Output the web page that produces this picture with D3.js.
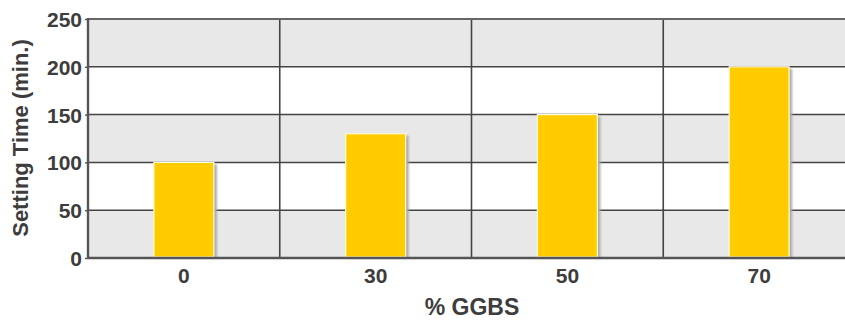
<!DOCTYPE html>
<html>
<head>
<meta charset="utf-8">
<script src="https://cdn.jsdelivr.net/npm/d3@7"></script>
<style>
  html, body { margin: 0; padding: 0; background: #fff; }
  svg { display: block; }
  text { font-family: "Liberation Sans", Arial, sans-serif; font-weight: bold; fill: #3d3d3d; }
</style>
</head>
<body>
<svg id="chart" width="845" height="320"></svg>
<script>
const categories = ["0", "30", "50", "70"];
const values = [100, 130, 150, 200];
const yTicks = [0, 50, 100, 150, 200, 250];
const yTitle = "Setting Time (min.)";
const xTitle = "% GGBS";

const svg = d3.select("#chart");
const margin = { left: 88, top: 19, right: -10, bottom: 62 };
const W = 845, H = 320;
const x0 = margin.left, x1 = W - margin.right;
const yTop = margin.top, yBot = H - margin.bottom;

const x = d3.scaleBand().domain(categories).range([x0, x1]).padding(0);
const y = d3.scaleLinear().domain([0, 250]).range([yBot, yTop]);

// alternating bands
const bandPairs = d3.pairs(yTicks);
svg.append("g").selectAll("rect").data(bandPairs).join("rect")
  .attr("x", x0).attr("width", x1 - x0)
  .attr("y", d => y(d[1])).attr("height", d => y(d[0]) - y(d[1]))
  .attr("fill", (d, i) => i % 2 === 0 ? "#e8e8e8" : "#ffffff");

// vertical grid lines at band boundaries
const bounds = categories.slice(1).map(c => x(c));
svg.append("g").selectAll("line").data(bounds).join("line")
  .attr("x1", d => d).attr("x2", d => d)
  .attr("y1", yTop).attr("y2", yBot)
  .attr("stroke", "#444").attr("stroke-width", 1.6);

// horizontal grid lines
svg.append("g").selectAll("line").data(yTicks.slice(1)).join("line")
  .attr("x1", x0).attr("x2", x1)
  .attr("y1", d => y(d)).attr("y2", d => y(d))
  .attr("stroke", d => d === 250 ? "#666" : "#444")
  .attr("stroke-width", d => d === 250 ? 2 : 1.5);

// bars
const barW = 60;
const defs = svg.append("defs");
defs.append("filter").attr("id", "blur").append("feGaussianBlur").attr("stdDeviation", 1);
const bars = svg.append("g");
bars.selectAll("rect.shadow").data(values).join("rect").attr("class", "shadow")
  .attr("x", (d, i) => x(categories[i]) + x.bandwidth() / 2 - barW / 2 + 3)
  .attr("y", d => y(d) + 2)
  .attr("width", barW).attr("height", d => yBot - y(d) - 2)
  .attr("fill", "#aaa").attr("filter", "url(#blur)");
bars.selectAll("rect.bar").data(values).join("rect").attr("class", "bar")
  .attr("x", (d, i) => x(categories[i]) + x.bandwidth() / 2 - barW / 2)
  .attr("y", d => y(d))
  .attr("width", barW).attr("height", d => yBot - y(d) - 1)
  .attr("fill", "#ffcc00").attr("stroke", "#fffbe0").attr("stroke-width", 1.2);

// axes lines
svg.append("line").attr("x1", x0).attr("x2", x0).attr("y1", yTop - 1).attr("y2", yBot + 1)
  .attr("stroke", "#555").attr("stroke-width", 2.4);
svg.append("line").attr("x1", x0).attr("x2", x1).attr("y1", yBot).attr("y2", yBot)
  .attr("stroke", "#555").attr("stroke-width", 2.6);

// y axis labels
const yAxis = d3.axisLeft(y).tickValues(yTicks).tickSize(3).tickSizeOuter(0).tickPadding(3);
const gy = svg.append("g").attr("transform", `translate(${x0},0)`).call(yAxis);
gy.select(".domain").remove();
gy.selectAll(".tick line").attr("stroke", "#555").attr("stroke-width", 1.4);
gy.selectAll(".tick text").style("font-size", "21px").attr("dy", "0.36em")
  .style("font-family", "'Liberation Sans', Arial, sans-serif").style("font-weight", "bold").attr("fill", "#3d3d3d");

// x axis labels
const xAxis = d3.axisBottom(x).tickSize(0).tickPadding(10);
const gx = svg.append("g").attr("transform", `translate(0,${yBot})`).call(xAxis);
gx.select(".domain").remove();
gx.selectAll(".tick text").style("font-size", "21px")
  .style("font-family", "'Liberation Sans', Arial, sans-serif").style("font-weight", "bold").attr("fill", "#3d3d3d");

// titles
svg.append("text").attr("x", 472).attr("y", 315).attr("text-anchor", "middle")
  .style("font-size", "23px").text(xTitle);
svg.append("text").attr("transform", "translate(28,138) rotate(-90)").attr("text-anchor", "middle")
  .style("font-size", "22px").text(yTitle);
</script>
</body>
</html>
